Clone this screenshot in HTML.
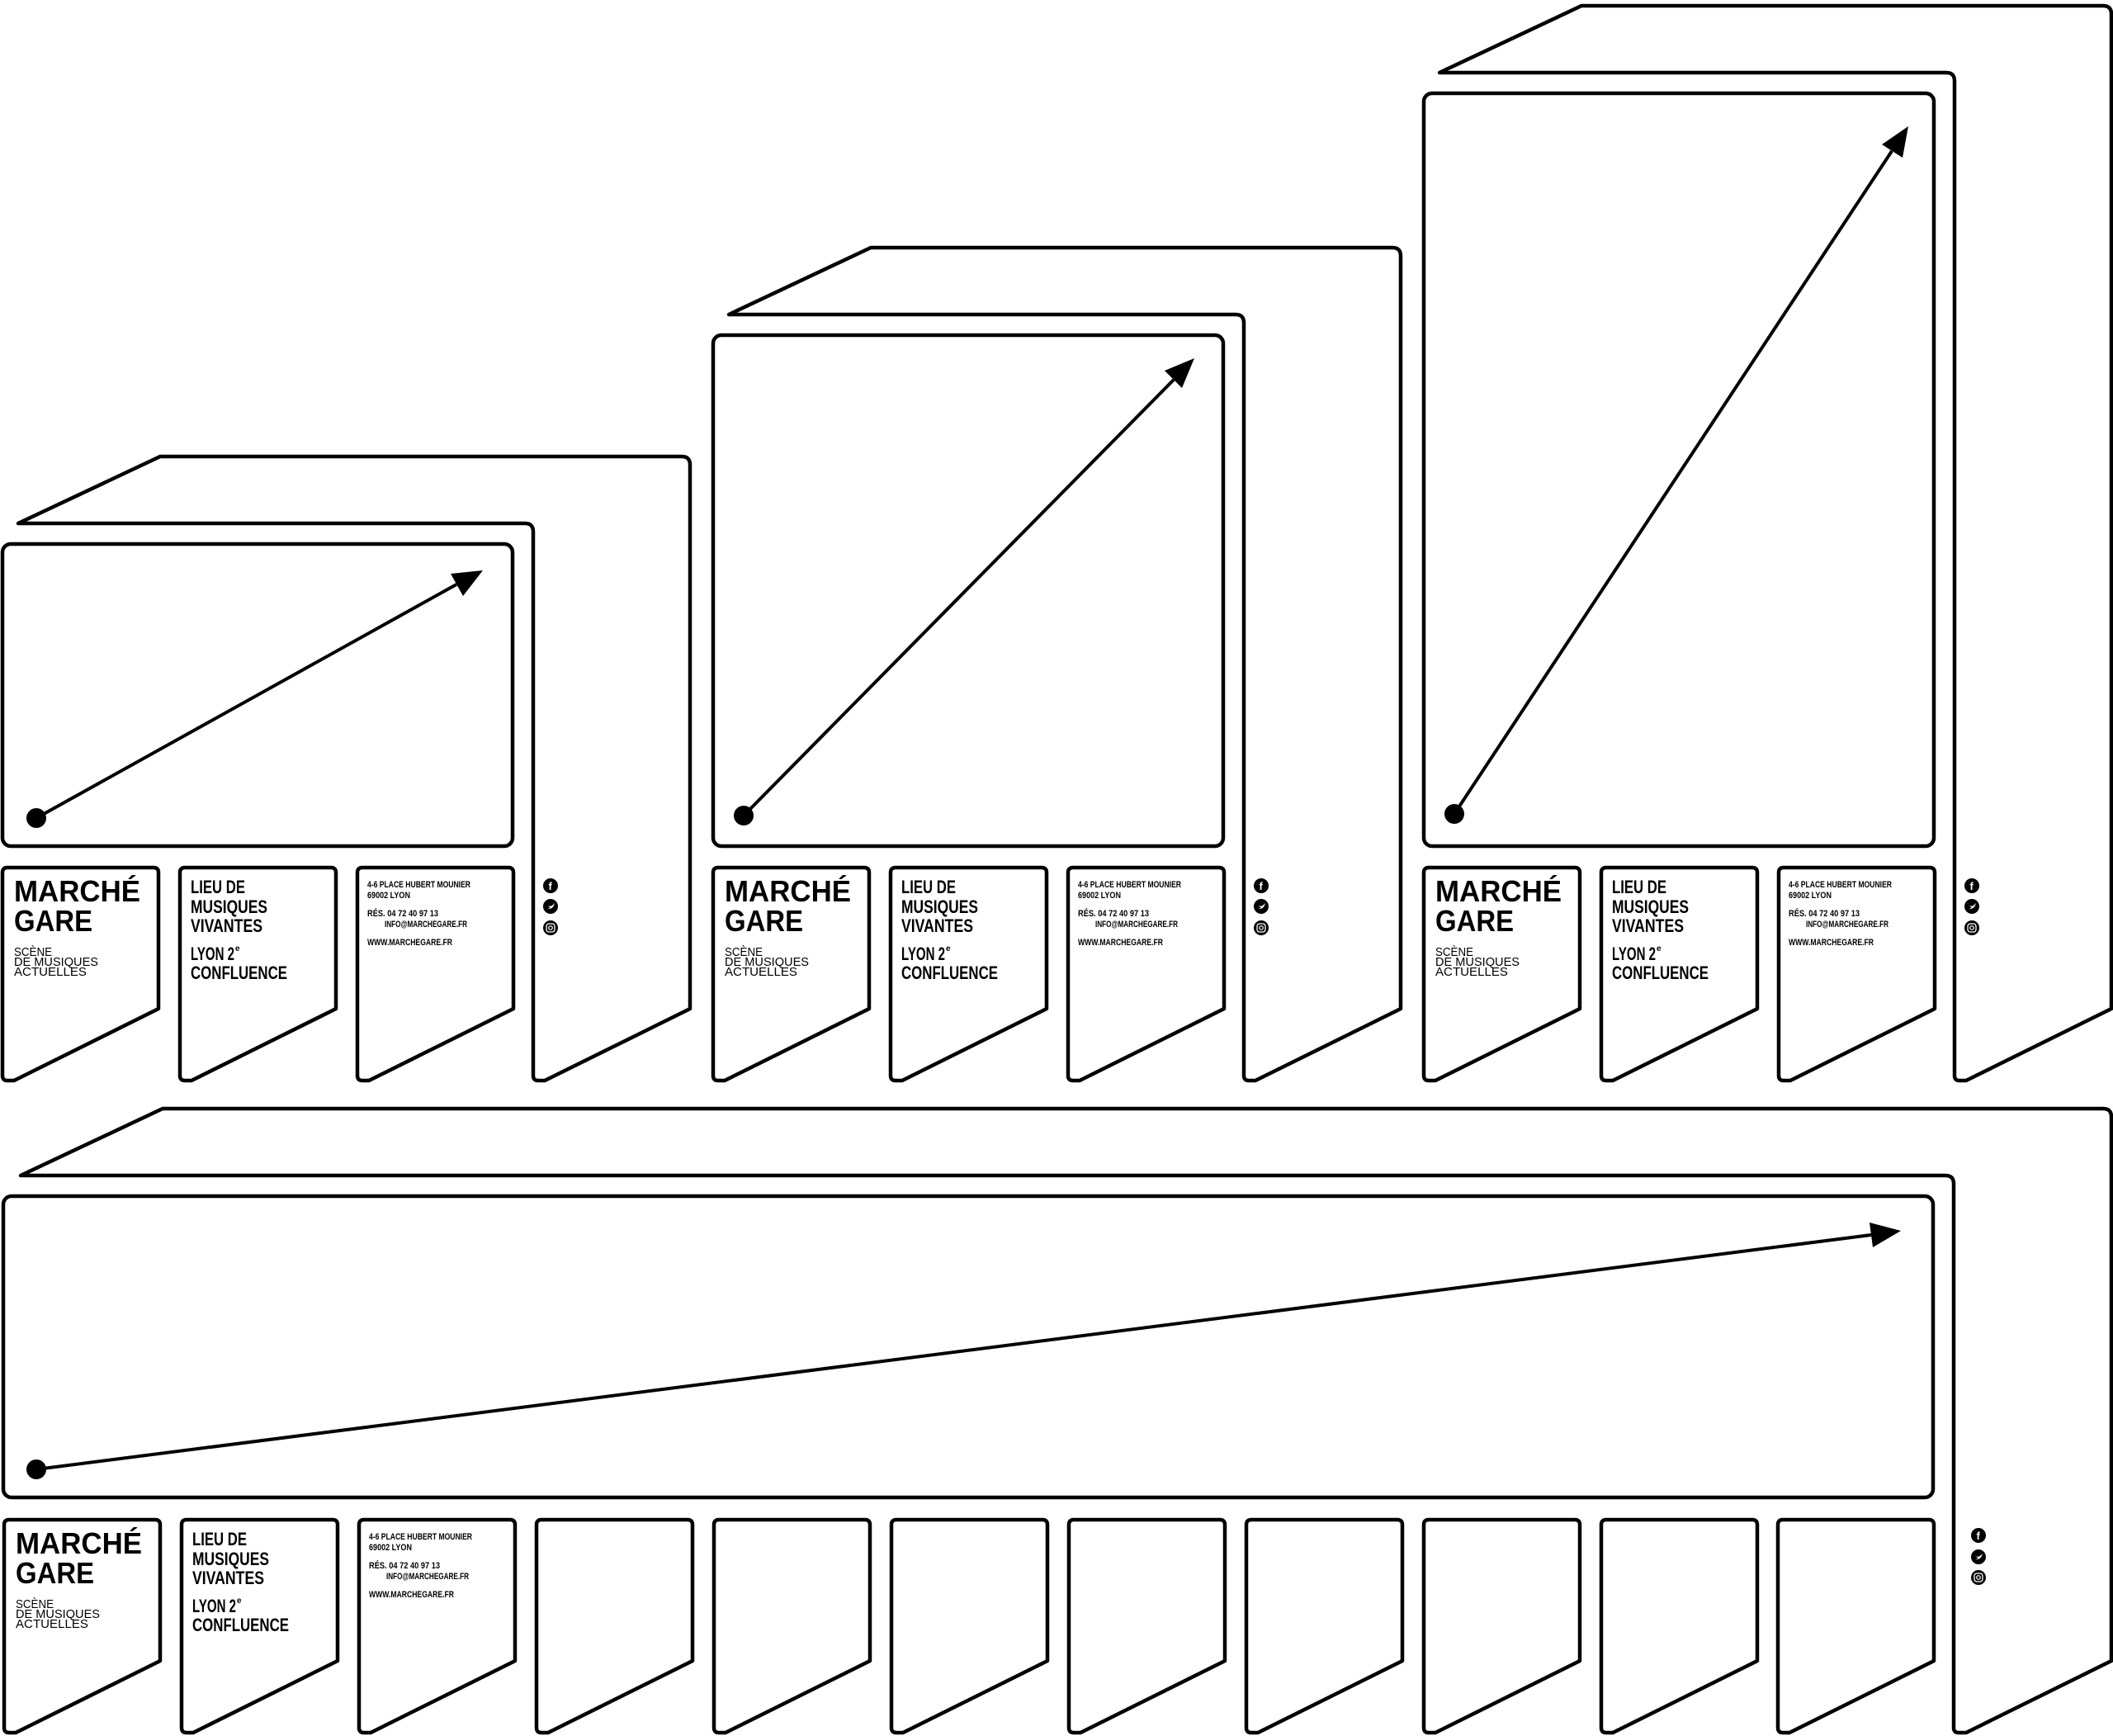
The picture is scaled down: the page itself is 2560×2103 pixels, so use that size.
<!DOCTYPE html>
<html><head><meta charset="utf-8"><style>
html,body{margin:0;padding:0;background:#fff;}
svg{display:block;}
.b{font-family:"Liberation Sans Narrow","Liberation Sans",sans-serif;font-weight:bold;fill:#000;}
.r{font-family:"Liberation Sans",sans-serif;fill:#000;}
</style></head><body>
<svg width="2560" height="2103" viewBox="0 0 2560 2103" xmlns="http://www.w3.org/2000/svg">
<g fill="#fff" stroke="#000" stroke-width="4.5" stroke-linejoin="round">

<!-- BLOCK 1 -->
<g transform="translate(0,0)">
<path d="M22,634 L194,553 L826,553 Q836,553 836,563 L836,1222 L660,1309 L652,1309 Q646,1309 646,1303 L646,644 Q646,634 636,634 Z"/>
<rect x="3" y="659" width="618" height="366" rx="10"/>
<path d="M3,1057 Q3,1051 9,1051 L186,1051 Q192,1051 192,1057 L192,1222 L17,1309 L9,1309 Q3,1309 3,1303 Z"/>
<path d="M218,1057 Q218,1051 224,1051 L401,1051 Q407,1051 407,1057 L407,1222 L232,1309 L224,1309 Q218,1309 218,1303 Z"/>
<path d="M433,1057 Q433,1051 439,1051 L616,1051 Q622,1051 622,1057 L622,1222 L447,1309 L439,1309 Q433,1309 433,1303 Z"/>
<line x1="44" y1="991" x2="553" y2="708" stroke-width="4"/>
<circle cx="44" cy="991" r="12" fill="#000" stroke="none"/>
<polygon points="585,691 561,722 546,695" fill="#000" stroke="none"/>
</g>

<!-- BLOCK 2 -->
<g transform="translate(861,0)">
<path d="M22,381 L194,300 L826,300 Q836,300 836,310 L836,1222 L660,1309 L652,1309 Q646,1309 646,1303 L646,391 Q646,381 636,381 Z"/>
<rect x="3" y="406" width="618" height="619" rx="10"/>
<path d="M3,1057 Q3,1051 9,1051 L186,1051 Q192,1051 192,1057 L192,1222 L17,1309 L9,1309 Q3,1309 3,1303 Z"/>
<path d="M218,1057 Q218,1051 224,1051 L401,1051 Q407,1051 407,1057 L407,1222 L232,1309 L224,1309 Q218,1309 218,1303 Z"/>
<path d="M433,1057 Q433,1051 439,1051 L616,1051 Q622,1051 622,1057 L622,1222 L447,1309 L439,1309 Q433,1309 433,1303 Z"/>
<line x1="40" y1="988" x2="561" y2="460" stroke-width="4"/>
<circle cx="40" cy="988" r="12" fill="#000" stroke="none"/>
<polygon points="586,434 571,470 550,449" fill="#000" stroke="none"/>
</g>

<!-- BLOCK 3 -->
<g transform="translate(1722,0)">
<path d="M22,88 L194,7 L826,7 Q836,7 836,17 L836,1222 L660,1309 L652,1309 Q646,1309 646,1303 L646,98 Q646,88 636,88 Z"/>
<rect x="3" y="113" width="618" height="912" rx="10"/>
<path d="M3,1057 Q3,1051 9,1051 L186,1051 Q192,1051 192,1057 L192,1222 L17,1309 L9,1309 Q3,1309 3,1303 Z"/>
<path d="M218,1057 Q218,1051 224,1051 L401,1051 Q407,1051 407,1057 L407,1222 L232,1309 L224,1309 Q218,1309 218,1303 Z"/>
<path d="M433,1057 Q433,1051 439,1051 L616,1051 Q622,1051 622,1057 L622,1222 L447,1309 L439,1309 Q433,1309 433,1303 Z"/>
<line x1="40" y1="986" x2="570" y2="183" stroke-width="4"/>
<circle cx="40" cy="986" r="12" fill="#000" stroke="none"/>
<polygon points="590,153 583,191 558,175" fill="#000" stroke="none"/>
</g>

<!-- BOTTOM BLOCK -->
<path d="M25,1424 L197,1343 L2548,1343 Q2558,1343 2558,1353 L2558,2012 L2382,2099 L2373,2099 Q2367,2099 2367,2093 L2367,1434 Q2367,1424 2357,1424 Z"/>
<rect x="4" y="1449" width="2338" height="365" rx="10"/>
<g id="bc">
<path d="M5,1847 Q5,1841 11,1841 L188,1841 Q194,1841 194,1847 L194,2012 L19,2099 L11,2099 Q5,2099 5,2093 Z"/>
<path d="M220,1847 Q220,1841 226,1841 L403,1841 Q409,1841 409,1847 L409,2012 L234,2099 L226,2099 Q220,2099 220,2093 Z"/>
<path d="M435,1847 Q435,1841 441,1841 L618,1841 Q624,1841 624,1847 L624,2012 L449,2099 L441,2099 Q435,2099 435,2093 Z"/>
<path d="M650,1847 Q650,1841 656,1841 L833,1841 Q839,1841 839,1847 L839,2012 L664,2099 L656,2099 Q650,2099 650,2093 Z"/>
<path d="M865,1847 Q865,1841 871,1841 L1048,1841 Q1054,1841 1054,1847 L1054,2012 L879,2099 L871,2099 Q865,2099 865,2093 Z"/>
<path d="M1080,1847 Q1080,1841 1086,1841 L1263,1841 Q1269,1841 1269,1847 L1269,2012 L1094,2099 L1086,2099 Q1080,2099 1080,2093 Z"/>
<path d="M1295,1847 Q1295,1841 1301,1841 L1478,1841 Q1484,1841 1484,1847 L1484,2012 L1309,2099 L1301,2099 Q1295,2099 1295,2093 Z"/>
<path d="M1510,1847 Q1510,1841 1516,1841 L1693,1841 Q1699,1841 1699,1847 L1699,2012 L1524,2099 L1516,2099 Q1510,2099 1510,2093 Z"/>
<path d="M1725,1847 Q1725,1841 1731,1841 L1908,1841 Q1914,1841 1914,1847 L1914,2012 L1739,2099 L1731,2099 Q1725,2099 1725,2093 Z"/>
<path d="M1940,1847 Q1940,1841 1946,1841 L2123,1841 Q2129,1841 2129,1847 L2129,2012 L1954,2099 L1946,2099 Q1940,2099 1940,2093 Z"/>
<path d="M2154,1847 Q2154,1841 2160,1841 L2337,1841 Q2343,1841 2343,1847 L2343,2012 L2168,2099 L2160,2099 Q2154,2099 2154,2093 Z"/>
</g>
<line x1="44" y1="1780" x2="2267" y2="1496" stroke-width="4"/>
<circle cx="44" cy="1780" r="12" fill="#000" stroke="none"/>
<polygon points="2303,1491 2269,1511 2265,1481" fill="#000" stroke="none"/>
</g>

<!-- TEXT for top blocks -->
<g transform="translate(0,0)">
<text class="b" x="17" y="1092" font-size="36" textLength="153" lengthAdjust="spacingAndGlyphs">MARCHÉ</text>
<text class="b" x="17" y="1128" font-size="36" textLength="95" lengthAdjust="spacingAndGlyphs">GARE</text>
<text class="r" x="17" y="1158" font-size="15" textLength="46" lengthAdjust="spacingAndGlyphs">SCÈNE</text>
<text class="r" x="17" y="1170" font-size="15" textLength="102" lengthAdjust="spacingAndGlyphs">DE MUSIQUES</text>
<text class="r" x="17" y="1182" font-size="15" textLength="88" lengthAdjust="spacingAndGlyphs">ACTUELLES</text>
<text class="b" x="231" y="1082" font-size="22" textLength="66" lengthAdjust="spacingAndGlyphs">LIEU DE</text>
<text class="b" x="231" y="1106" font-size="22" textLength="93" lengthAdjust="spacingAndGlyphs">MUSIQUES</text>
<text class="b" x="231" y="1129" font-size="22" textLength="87" lengthAdjust="spacingAndGlyphs">VIVANTES</text>
<text class="b" x="231" y="1163" font-size="22" textLength="53" lengthAdjust="spacingAndGlyphs">LYON 2</text><text class="b" x="285" y="1152" font-size="10">e</text>
<text class="b" x="231" y="1186" font-size="22" textLength="117" lengthAdjust="spacingAndGlyphs">CONFLUENCE</text>
<text class="b" x="445" y="1075" font-size="11" textLength="125" lengthAdjust="spacingAndGlyphs">4-6 PLACE HUBERT MOUNIER</text>
<text class="b" x="445" y="1088" font-size="11" textLength="52" lengthAdjust="spacingAndGlyphs">69002 LYON</text>
<text class="b" x="445" y="1110" font-size="11" textLength="86" lengthAdjust="spacingAndGlyphs">RÉS. 04 72 40 97 13</text>
<text class="b" x="466" y="1123" font-size="11" textLength="100" lengthAdjust="spacingAndGlyphs">INFO@MARCHEGARE.FR</text>
<text class="b" x="445" y="1145" font-size="11" textLength="103" lengthAdjust="spacingAndGlyphs">WWW.MARCHEGARE.FR</text>
<g transform="translate(667,1073)"><circle r="9" fill="#000"/><text x="-2.5" y="5" font-size="13" font-weight="bold" fill="#fff" font-family="Liberation Sans,sans-serif">f</text></g>
<g transform="translate(667,1098)"><circle r="9" fill="#000"/><path d="M-5,-2 Q0,2 4,-3 L5,-4 Q3,4 -4,3 Q1,2 -1,1 Z" fill="#fff"/></g>
<g transform="translate(667,1124)"><circle r="9" fill="#000"/><rect x="-5" y="-5" width="10" height="10" rx="3" fill="none" stroke="#fff" stroke-width="1.3"/><circle r="2.3" fill="none" stroke="#fff" stroke-width="1.2"/></g>
</g>

<g transform="translate(861,0)">
<text class="b" x="17" y="1092" font-size="36" textLength="153" lengthAdjust="spacingAndGlyphs">MARCHÉ</text>
<text class="b" x="17" y="1128" font-size="36" textLength="95" lengthAdjust="spacingAndGlyphs">GARE</text>
<text class="r" x="17" y="1158" font-size="15" textLength="46" lengthAdjust="spacingAndGlyphs">SCÈNE</text>
<text class="r" x="17" y="1170" font-size="15" textLength="102" lengthAdjust="spacingAndGlyphs">DE MUSIQUES</text>
<text class="r" x="17" y="1182" font-size="15" textLength="88" lengthAdjust="spacingAndGlyphs">ACTUELLES</text>
<text class="b" x="231" y="1082" font-size="22" textLength="66" lengthAdjust="spacingAndGlyphs">LIEU DE</text>
<text class="b" x="231" y="1106" font-size="22" textLength="93" lengthAdjust="spacingAndGlyphs">MUSIQUES</text>
<text class="b" x="231" y="1129" font-size="22" textLength="87" lengthAdjust="spacingAndGlyphs">VIVANTES</text>
<text class="b" x="231" y="1163" font-size="22" textLength="53" lengthAdjust="spacingAndGlyphs">LYON 2</text><text class="b" x="285" y="1152" font-size="10">e</text>
<text class="b" x="231" y="1186" font-size="22" textLength="117" lengthAdjust="spacingAndGlyphs">CONFLUENCE</text>
<text class="b" x="445" y="1075" font-size="11" textLength="125" lengthAdjust="spacingAndGlyphs">4-6 PLACE HUBERT MOUNIER</text>
<text class="b" x="445" y="1088" font-size="11" textLength="52" lengthAdjust="spacingAndGlyphs">69002 LYON</text>
<text class="b" x="445" y="1110" font-size="11" textLength="86" lengthAdjust="spacingAndGlyphs">RÉS. 04 72 40 97 13</text>
<text class="b" x="466" y="1123" font-size="11" textLength="100" lengthAdjust="spacingAndGlyphs">INFO@MARCHEGARE.FR</text>
<text class="b" x="445" y="1145" font-size="11" textLength="103" lengthAdjust="spacingAndGlyphs">WWW.MARCHEGARE.FR</text>
<g transform="translate(667,1073)"><circle r="9" fill="#000"/><text x="-2.5" y="5" font-size="13" font-weight="bold" fill="#fff" font-family="Liberation Sans,sans-serif">f</text></g>
<g transform="translate(667,1098)"><circle r="9" fill="#000"/><path d="M-5,-2 Q0,2 4,-3 L5,-4 Q3,4 -4,3 Q1,2 -1,1 Z" fill="#fff"/></g>
<g transform="translate(667,1124)"><circle r="9" fill="#000"/><rect x="-5" y="-5" width="10" height="10" rx="3" fill="none" stroke="#fff" stroke-width="1.3"/><circle r="2.3" fill="none" stroke="#fff" stroke-width="1.2"/></g>
</g>

<g transform="translate(1722,0)">
<text class="b" x="17" y="1092" font-size="36" textLength="153" lengthAdjust="spacingAndGlyphs">MARCHÉ</text>
<text class="b" x="17" y="1128" font-size="36" textLength="95" lengthAdjust="spacingAndGlyphs">GARE</text>
<text class="r" x="17" y="1158" font-size="15" textLength="46" lengthAdjust="spacingAndGlyphs">SCÈNE</text>
<text class="r" x="17" y="1170" font-size="15" textLength="102" lengthAdjust="spacingAndGlyphs">DE MUSIQUES</text>
<text class="r" x="17" y="1182" font-size="15" textLength="88" lengthAdjust="spacingAndGlyphs">ACTUELLES</text>
<text class="b" x="231" y="1082" font-size="22" textLength="66" lengthAdjust="spacingAndGlyphs">LIEU DE</text>
<text class="b" x="231" y="1106" font-size="22" textLength="93" lengthAdjust="spacingAndGlyphs">MUSIQUES</text>
<text class="b" x="231" y="1129" font-size="22" textLength="87" lengthAdjust="spacingAndGlyphs">VIVANTES</text>
<text class="b" x="231" y="1163" font-size="22" textLength="53" lengthAdjust="spacingAndGlyphs">LYON 2</text><text class="b" x="285" y="1152" font-size="10">e</text>
<text class="b" x="231" y="1186" font-size="22" textLength="117" lengthAdjust="spacingAndGlyphs">CONFLUENCE</text>
<text class="b" x="445" y="1075" font-size="11" textLength="125" lengthAdjust="spacingAndGlyphs">4-6 PLACE HUBERT MOUNIER</text>
<text class="b" x="445" y="1088" font-size="11" textLength="52" lengthAdjust="spacingAndGlyphs">69002 LYON</text>
<text class="b" x="445" y="1110" font-size="11" textLength="86" lengthAdjust="spacingAndGlyphs">RÉS. 04 72 40 97 13</text>
<text class="b" x="466" y="1123" font-size="11" textLength="100" lengthAdjust="spacingAndGlyphs">INFO@MARCHEGARE.FR</text>
<text class="b" x="445" y="1145" font-size="11" textLength="103" lengthAdjust="spacingAndGlyphs">WWW.MARCHEGARE.FR</text>
<g transform="translate(667,1073)"><circle r="9" fill="#000"/><text x="-2.5" y="5" font-size="13" font-weight="bold" fill="#fff" font-family="Liberation Sans,sans-serif">f</text></g>
<g transform="translate(667,1098)"><circle r="9" fill="#000"/><path d="M-5,-2 Q0,2 4,-3 L5,-4 Q3,4 -4,3 Q1,2 -1,1 Z" fill="#fff"/></g>
<g transform="translate(667,1124)"><circle r="9" fill="#000"/><rect x="-5" y="-5" width="10" height="10" rx="3" fill="none" stroke="#fff" stroke-width="1.3"/><circle r="2.3" fill="none" stroke="#fff" stroke-width="1.2"/></g>
</g>

<!-- TEXT bottom block -->
<g transform="translate(2,790)">
<text class="b" x="17" y="1092" font-size="36" textLength="153" lengthAdjust="spacingAndGlyphs">MARCHÉ</text>
<text class="b" x="17" y="1128" font-size="36" textLength="95" lengthAdjust="spacingAndGlyphs">GARE</text>
<text class="r" x="17" y="1158" font-size="15" textLength="46" lengthAdjust="spacingAndGlyphs">SCÈNE</text>
<text class="r" x="17" y="1170" font-size="15" textLength="102" lengthAdjust="spacingAndGlyphs">DE MUSIQUES</text>
<text class="r" x="17" y="1182" font-size="15" textLength="88" lengthAdjust="spacingAndGlyphs">ACTUELLES</text>
<text class="b" x="231" y="1082" font-size="22" textLength="66" lengthAdjust="spacingAndGlyphs">LIEU DE</text>
<text class="b" x="231" y="1106" font-size="22" textLength="93" lengthAdjust="spacingAndGlyphs">MUSIQUES</text>
<text class="b" x="231" y="1129" font-size="22" textLength="87" lengthAdjust="spacingAndGlyphs">VIVANTES</text>
<text class="b" x="231" y="1163" font-size="22" textLength="53" lengthAdjust="spacingAndGlyphs">LYON 2</text><text class="b" x="285" y="1152" font-size="10">e</text>
<text class="b" x="231" y="1186" font-size="22" textLength="117" lengthAdjust="spacingAndGlyphs">CONFLUENCE</text>
<text class="b" x="445" y="1075" font-size="11" textLength="125" lengthAdjust="spacingAndGlyphs">4-6 PLACE HUBERT MOUNIER</text>
<text class="b" x="445" y="1088" font-size="11" textLength="52" lengthAdjust="spacingAndGlyphs">69002 LYON</text>
<text class="b" x="445" y="1110" font-size="11" textLength="86" lengthAdjust="spacingAndGlyphs">RÉS. 04 72 40 97 13</text>
<text class="b" x="466" y="1123" font-size="11" textLength="100" lengthAdjust="spacingAndGlyphs">INFO@MARCHEGARE.FR</text>
<text class="b" x="445" y="1145" font-size="11" textLength="103" lengthAdjust="spacingAndGlyphs">WWW.MARCHEGARE.FR</text>
</g>
<g transform="translate(2397,1860)"><circle r="9" fill="#000"/><text x="-2.5" y="5" font-size="13" font-weight="bold" fill="#fff" font-family="Liberation Sans,sans-serif">f</text></g>
<g transform="translate(2397,1886)"><circle r="9" fill="#000"/><path d="M-5,-2 Q0,2 4,-3 L5,-4 Q3,4 -4,3 Q1,2 -1,1 Z" fill="#fff"/></g>
<g transform="translate(2397,1911)"><circle r="9" fill="#000"/><rect x="-5" y="-5" width="10" height="10" rx="3" fill="none" stroke="#fff" stroke-width="1.3"/><circle r="2.3" fill="none" stroke="#fff" stroke-width="1.2"/></g>
</svg>
</body></html>
